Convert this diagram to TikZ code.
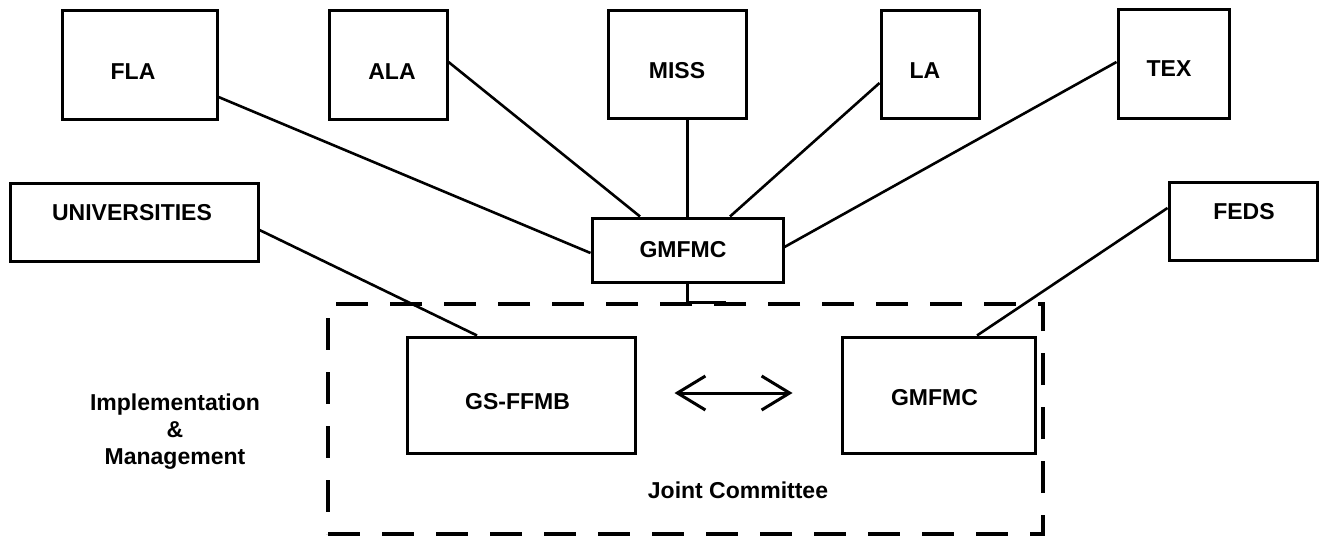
\documentclass[tikz,border=0pt]{standalone}
\usepackage{fontspec}
\setmainfont{Liberation Sans}
\usetikzlibrary{arrows.meta}
\begin{document}
\begin{tikzpicture}[x=1pt,y=-1pt,
  box/.style={draw=black,line width=3pt,minimum width=#1,inner sep=0pt},
  lbl/.style={inner sep=0pt,font=\fontsize{23}{28}\selectfont\bfseries},
  link/.style={line width=2.6pt},
  jointbox/.style={draw=black,line width=3.4pt,dash pattern=on 32pt off 22pt,inner sep=0pt},
  twoway/.style={line width=3pt,{Straight Barb[length=28pt,width=34pt]}-{Straight Barb[length=28pt,width=34pt]}}]
\useasboundingbox (0,0) rectangle (1320,538);

% member boxes along the top row
\node[box=155pt,minimum height=109pt] (fla)  at (139.5,64.5) {};
\node[box=118pt,minimum height=109pt] (ala)  at (388,64.5) {};
\node[box=138pt,minimum height=108pt] (miss) at (677,64) {};
\node[box=98pt, minimum height=108pt] (la)   at (930,64) {};
\node[box=111pt,minimum height=109pt] (tex)  at (1173.5,63.5) {};
\node[lbl] (flat)  at (133,72)  {FLA};
\node[lbl] (alat)  at (392,72)  {ALA};
\node[lbl] (misst) at (677,71)  {MISS};
\node[lbl] (lat)   at (925,71)  {LA};
\node[lbl] (text)  at (1169,69) {TEX};

% second row
\node[box=248pt,minimum height=78pt] (univ) at (134,222) {};
\node[box=148pt,minimum height=78pt] (feds) at (1243,221) {};
\node[box=191pt,minimum height=64pt] (gmc)  at (687.5,250) {};
\node[lbl] (univt) at (132,213)  {UNIVERSITIES};
\node[lbl] (fedst) at (1244,212) {FEDS};
\node[lbl] (gmct)  at (683,250)  {GMFMC};

% joint committee
\node[jointbox,minimum width=715pt,minimum height=230pt] (jc) at (685.5,419) {};
\node[box=228pt,minimum height=116pt] (gsf) at (521,395) {};
\node[box=193pt,minimum height=116pt] (gmr) at (938.5,395) {};
\node[lbl] (gsft) at (517.5,402) {GS-FFMB};
\node[lbl] (gmrt) at (934.5,398) {GMFMC};
\node[lbl] (jct)  at (738,490)   {Joint Committee};
\node[lbl,align=center] (impl) at (175,432) {Implementation\\[-1pt]\&\\[-1pt]Management};

% connectors
\draw[link] ([yshift=-32.5pt]fla.east) -- ([yshift=-3pt]gmc.west);
\draw[link] ([yshift=2.5pt]ala.east) -- ([xshift=-47.5pt]gmc.north);
\draw[link] (gmc.north) -- (gmc.north |- miss.south);
\draw[link] ([yshift=-19pt]la.west) -- ([xshift=42.5pt]gmc.north);
\draw[link] ([yshift=1.5pt]tex.west) -- ([yshift=3pt]gmc.east);
\draw[link] ([yshift=-8pt]univ.east) -- ([xshift=-44pt]gsf.north);
\draw[link] ([yshift=13pt]feds.west) -- ([xshift=38.5pt]gmr.north);
\coordinate (jctop) at (gmc.south |- jc.north);
\draw[link] (gmc.south) -- (jctop) -- ++(38,0);
\draw[twoway] ([xshift=38pt,yshift=2pt]gsf.east) -- ([xshift=-48pt,yshift=2pt]gmr.west);
\end{tikzpicture}
\end{document}
